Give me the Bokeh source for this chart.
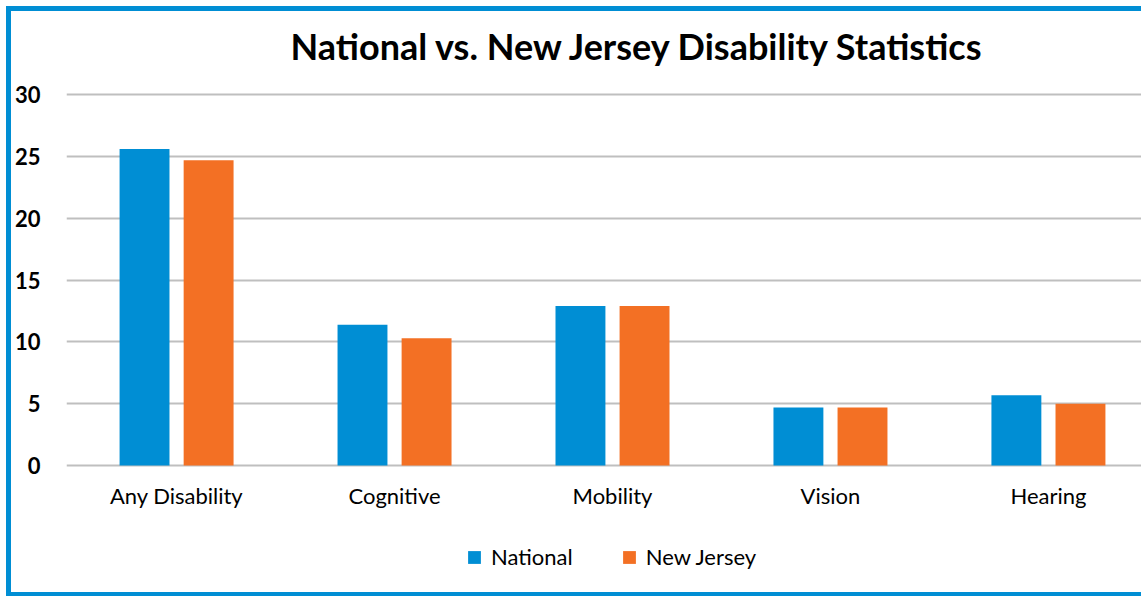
import numpy as np
from bokeh.plotting import figure
from bokeh.models import (Range1d, FixedTicker, Legend, LegendItem, LabelSet,
                          ColumnDataSource)
from bokeh.core.properties import value
from bokeh.embed import file_html
from bokeh.resources import INLINE

categories = ["Any Disability", "Cognitive", "Mobility", "Vision", "Hearing"]
national = [25.6, 11.4, 12.9, 4.7, 5.7]
new_jersey = [24.7, 10.3, 12.9, 4.7, 5.0]
y_ticks = [0, 5, 10, 15, 20, 25, 30]

BLUE = "#008ED4"
ORANGE = "#F37024"
FONT = "Lato"

idx = np.arange(len(categories))

g = f"linear-gradient({BLUE},{BLUE})"
frame_css = {
    "background-image": ", ".join([g, g, g]),
    "background-size": "5px 590px, 1141px 5px, 1141px 5px",
    "background-position": "6px 6px, 6px 6px, 6px 592px",
    "background-repeat": "no-repeat",
}

p = figure(width=1141, height=596, output_backend="svg", toolbar_location=None,
           x_range=Range1d(-0.505, 4.427), y_range=Range1d(-9.94, 30.5),
           min_border_left=66, min_border_right=0, min_border_top=88,
           min_border_bottom=8, styles=frame_css)
p.border_fill_alpha = 0
p.background_fill_color = "#FFFFFF"

p.title.text = "National vs. New Jersey Disability Statistics"
p.title.text_font = FONT
p.title.text_font_size = "36px"
p.title.text_font_style = "bold"
p.title.text_color = "#000000"
p.title.align = "left"
p.title.offset = 224
p.title.standoff = 42

r1 = p.vbar(x=idx - 0.147, top=national, width=0.229, color=BLUE, line_color=None)
r2 = p.vbar(x=idx + 0.147, top=new_jersey, width=0.229, color=ORANGE, line_color=None)

p.outline_line_color = None
p.xgrid.grid_line_color = None
p.ygrid.grid_line_color = "#BFBFBF"
p.ygrid.grid_line_width = 2
p.ygrid.ticker = FixedTicker(ticks=y_ticks)

p.yaxis.ticker = FixedTicker(ticks=y_ticks)
p.yaxis.axis_line_color = None
p.yaxis.major_tick_line_color = None
p.yaxis.minor_tick_line_color = None
p.yaxis.major_label_standoff = 20
p.yaxis.major_label_text_font = FONT
p.yaxis.major_label_text_font_style = "bold"
p.yaxis.major_label_text_font_size = "22px"
p.yaxis.major_label_text_color = "#000000"

p.xaxis.visible = False

cat_src = ColumnDataSource(dict(x=idx, y=np.zeros(len(categories)), text=categories))
cat_labels = LabelSet(x="x", y="y", text="text", source=cat_src, y_offset=-30,
                      text_align="center", text_baseline="middle",
                      text_font=value(FONT), text_font_size="22px",
                      text_color="#000000")
p.add_layout(cat_labels)

legend = Legend(items=[LegendItem(label="National", renderers=[r1]),
                       LegendItem(label="New Jersey", renderers=[r2])],
                orientation="horizontal", location=(400, 18),
                glyph_width=16, glyph_height=16, label_height=16,
                label_standoff=9, spacing=48, padding=0, margin=0,
                border_line_color=None, background_fill_alpha=0,
                label_text_font=FONT, label_text_font_size="22px",
                label_text_color="#000000")
p.add_layout(legend, "center")

open("out.html", "w").write(file_html(p, INLINE))
